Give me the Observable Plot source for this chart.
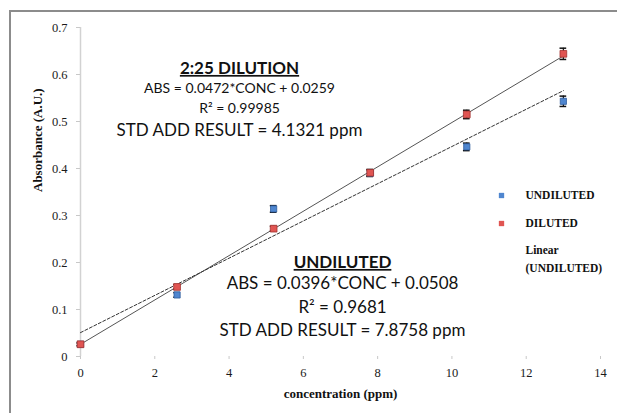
<!DOCTYPE html>
<html><head><meta charset="utf-8">
<script src="https://cdn.jsdelivr.net/npm/d3@7"></script>
<script src="https://cdn.jsdelivr.net/npm/@observablehq/plot@0.6"></script>
<style>
html,body{margin:0;padding:0;background:#fff;overflow:hidden;}
#wrap{position:relative;width:617px;height:413px;overflow:hidden;}
#frame{position:absolute;left:9px;top:10px;width:700px;height:600px;border:2px solid #8c8c8c;box-sizing:border-box;}
#chart{position:absolute;left:0;top:0;}
</style></head><body>
<div id="wrap"><div id="frame"></div><div id="chart"></div></div>
<script>
const concentration = [0, 2.6, 5.2, 7.8, 10.4, 13];
const dilutedAbs   = [0.026, 0.148, 0.272, 0.391, 0.515, 0.644];
const dilutedErr   = [0.003, 0.005, 0.005, 0.007, 0.009, 0.012];
const undilutedAbs = [0.026, 0.131, 0.314, 0.390, 0.446, 0.543];
const undilutedErr = [0.003, 0.005, 0.007, 0.007, 0.008, 0.011];
const fitDiluted   = {slope: 0.0472, intercept: 0.0259};
const fitUndiluted = {slope: 0.0396, intercept: 0.0508};
const fitRange = [0, 13];
const xTicks = [0, 2, 4, 6, 8, 10, 12, 14];
const yTicks = [0, 0.1, 0.2, 0.3, 0.4, 0.5, 0.6, 0.7];
const seriesNames = ["UNDILUTED", "DILUTED"];
const legendExtra = ["Linear", "(UNDILUTED)"];
const dilutionTitle = "2:25 DILUTION";
const dilutionLines = ["ABS = 0.0472*CONC + 0.0259", "R² = 0.99985"];
const dilutionResult = "STD ADD RESULT = 4.1321 ppm";
const undilutedTitle = "UNDILUTED";
const undilutedLines = ["ABS = 0.0396*CONC + 0.0508", "R² = 0.9681", "STD ADD RESULT = 7.8758 ppm"];
const xLabel = "concentration (ppm)";
const yLabel = "Absorbance (A.U.)";

const colors = {UNDILUTED: {fill: "#4f86cf", stroke: "#2d5c9c"}, DILUTED: {fill: "#e05552", stroke: "#a33230"}};

const diluted = concentration.map((x, i) => ({x, y: dilutedAbs[i], e: dilutedErr[i]}));
const undiluted = concentration.map((x, i) => ({x, y: undilutedAbs[i], e: undilutedErr[i]}));
const line = f => fitRange.map(x => ({x, y: f.slope * x + f.intercept}));

const sans = "Lato, 'Open Sans', sans-serif";
const serif = "'Liberation Serif', 'DejaVu Serif', serif";

function errMarks(data) {
  return [
    Plot.ruleX(data, {x: "x", y1: d => d.y - d.e, y2: d => d.y + d.e, stroke: "#111", strokeWidth: 1.2}),
    Plot.ruleY(data, {y: d => d.y - d.e, x1: d => d.x - 0.09, x2: d => d.x + 0.09, stroke: "#111", strokeWidth: 1.5}),
    Plot.ruleY(data, {y: d => d.y + d.e, x1: d => d.x - 0.09, x2: d => d.x + 0.09, stroke: "#111", strokeWidth: 1.5})
  ];
}

const txt = (t, o) => Plot.text([t], {text: d => d, frameAnchor: "top-left", textAnchor: "middle", lineAnchor: "middle", fontFamily: sans, fill: "#111", ...o});

const chart = Plot.plot({
  width: 617, height: 413,
  marginLeft: 80, marginRight: 17, marginTop: 27, marginBottom: 57,
  style: {fontFamily: serif, fontSize: "12.5px", background: "transparent", color: "#222"},
  x: {domain: [0, 14], label: null},
  y: {domain: [0, 0.7], label: null},
  marks: [
    Plot.ruleX([0], {stroke: "#d2d2d2", strokeWidth: 1.5}),
    Plot.axisY({ticks: yTicks, tickSize: 4, tickPadding: 9, stroke: "#c8c8c8", fill: "#1a1a1a", tickFormat: d => d === 0 ? "0" : d.toFixed(1)}),
    Plot.axisX({ticks: xTicks, tickSize: 3, tickPadding: 9, stroke: "#c8c8c8", fill: "#1a1a1a", tickFormat: d => String(d)}),
    Plot.line(line(fitDiluted), {x: "x", y: "y", stroke: "#555", strokeWidth: 1}),
    Plot.line(line(fitUndiluted), {x: "x", y: "y", stroke: "#333", strokeWidth: 1, strokeDasharray: "3,2"}),
    ...errMarks(undiluted),
    ...errMarks(diluted),
    Plot.dot(undiluted, {x: "x", y: "y", symbol: "square", r: 3.5, fill: colors.UNDILUTED.fill, stroke: colors.UNDILUTED.stroke, strokeWidth: 0.8}),
    Plot.dot(diluted, {x: "x", y: "y", symbol: "square", r: 3.8, fill: colors.DILUTED.fill, stroke: colors.DILUTED.stroke, strokeWidth: 0.8}),
    // axis titles
    Plot.text([xLabel], {text: d => d, frameAnchor: "bottom", dy: 37, lineAnchor: "middle", fontFamily: serif, fontWeight: "bold", fontSize: 13, fill: "#111"}),
    Plot.text([yLabel], {text: d => d, frameAnchor: "left", dx: -43, rotate: -90, lineAnchor: "middle", fontFamily: serif, fontWeight: "bold", fontSize: 13, fill: "#111"}),
    // dilution block
    txt(dilutionTitle, {dx: 159, dy: 41, fontSize: 17, fontWeight: "bold", ariaDescription: "underline"}),
    txt(dilutionLines[0], {dx: 159, dy: 61, fontSize: 14}),
    txt(dilutionLines[1], {dx: 159, dy: 81, fontSize: 14}),
    txt(dilutionResult, {dx: 159, dy: 103, fontSize: 17}),
    // undiluted block
    txt(undilutedTitle, {dx: 262, dy: 235, fontSize: 17, fontWeight: "bold", ariaDescription: "underline"}),
    txt(undilutedLines[0], {dx: 262, dy: 256, fontSize: 17}),
    txt(undilutedLines[1], {dx: 262, dy: 280, fontSize: 17}),
    txt(undilutedLines[2], {dx: 262, dy: 303, fontSize: 17}),
    // legend
    Plot.dot([seriesNames[0]], {frameAnchor: "top-left", dx: 421, dy: 168, symbol: "square", r: 3, fill: colors.UNDILUTED.fill}),
    Plot.dot([seriesNames[1]], {frameAnchor: "top-left", dx: 421, dy: 196, symbol: "square", r: 3, fill: colors.DILUTED.fill}),
    txt(seriesNames[0], {dx: 445, dy: 168, textAnchor: "start", fontFamily: serif, fontWeight: "bold", fontSize: 11.5}),
    txt(seriesNames[1], {dx: 445, dy: 196, textAnchor: "start", fontFamily: serif, fontWeight: "bold", fontSize: 11.5}),
    txt(legendExtra[0], {dx: 445, dy: 223, textAnchor: "start", fontFamily: serif, fontWeight: "bold", fontSize: 11.5}),
    txt(legendExtra[1], {dx: 445, dy: 241, textAnchor: "start", fontFamily: serif, fontWeight: "bold", fontSize: 11.5})
  ]
});
chart.querySelectorAll('[aria-description="underline"] text').forEach(t => t.style.textDecoration = "underline");
document.getElementById("chart").appendChild(chart);
</script>
</body></html>
